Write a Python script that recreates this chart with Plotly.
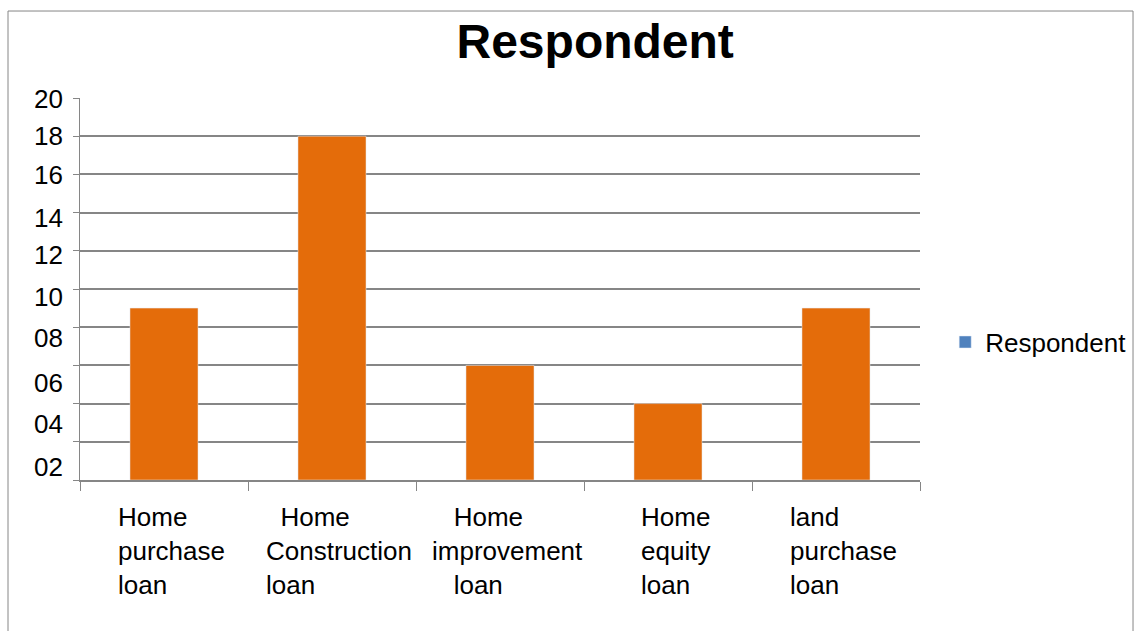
import plotly.graph_objects as go

categories = ["Home purchase loan", "Home Construction loan", "Home improvement loan",
              "Home equity loan", "land purchase loan"]
category_labels = ["Home<br>purchase<br>loan", "  Home<br>Construction<br>loan",
                   "   Home<br>improvement<br>   loan", "Home<br>equity<br>loan",
                   "land<br>purchase<br>loan"]
respondents = [9, 18, 6, 4, 9]
ygrid_values = [0, 2, 4, 6, 8, 10, 12, 14, 16, 18, 20]
ytick_labels = ["02", "04", "06", "08", "10", "12", "14", "16", "18", "20"]
# where the reference prints each y label (it drifts below its gridline lower down)
ytick_label_positions = [0.7, 2.95, 5.1, 7.42, 9.58, 11.8, 13.74, 16.0, 18.0, 19.95]

FONT = "Liberation Sans, Arial, sans-serif"
GRAY = "#868686"

fig = go.Figure()
fig.add_trace(go.Bar(x=categories, y=respondents, marker_color="#E46C0A",
                     showlegend=False, name="Respondent"))
fig.add_trace(go.Bar(x=[categories[0]], y=[None], marker_color="#4F81BD",
                     name="Respondent", showlegend=True, yaxis="y2"))

for cat, lab in zip(categories, category_labels):
    fig.add_annotation(x=cat, xref="x", y=0, yref="paper", yanchor="top", yshift=-20,
                       xshift=7, xanchor="center", align="left", text=lab, showarrow=False,
                       font=dict(family=FONT, size=26, color="#000000"))

fig.update_layout(
    width=1138, height=631,
    margin=dict(l=80, r=218, t=98, b=151, autoexpand=False),
    paper_bgcolor="white", plot_bgcolor="white",
    bargap=0.595,
    title=dict(text="<b>Respondent</b>", x=0.523, xanchor="center", y=0.935, yanchor="middle",
               font=dict(family=FONT, size=48, color="#000000")),
    font=dict(family=FONT, size=26, color="#000000"),
    legend=dict(x=1.030, xanchor="left", y=0.361, yanchor="middle",
                font=dict(family=FONT, size=26, color="#000000"),
                bgcolor="rgba(0,0,0,0)", itemwidth=30),
    xaxis=dict(showticklabels=False, tickson="boundaries", ticks="outside", ticklen=9,
               tickcolor=GRAY, showline=True, linecolor=GRAY, linewidth=2,
               showgrid=False, zeroline=False, automargin=False),
    yaxis=dict(range=[0, 20], tickvals=ygrid_values, showticklabels=False,
               ticks="outside", ticklen=6, tickcolor=GRAY, showline=True, linecolor=GRAY,
               linewidth=1, showgrid=True, gridcolor=GRAY, gridwidth=1.5, zeroline=False,
               automargin=False),
    yaxis2=dict(range=[0, 20], overlaying="y", side="left", anchor="x",
                tickvals=ytick_label_positions, ticktext=ytick_labels, ticks="",
                showgrid=False, showline=False, zeroline=False, ticklabelstandoff=16,
                automargin=False,
                tickfont=dict(family=FONT, size=26, color="#000000")),
    shapes=[dict(type="rect", xref="paper", yref="paper",
                 x0=-0.0857, x1=1.2536, y0=-0.45, y1=1.2277,
                 line=dict(color=GRAY, width=1), fillcolor="rgba(0,0,0,0)", layer="below")],
)

fig.write_html("out.html")
